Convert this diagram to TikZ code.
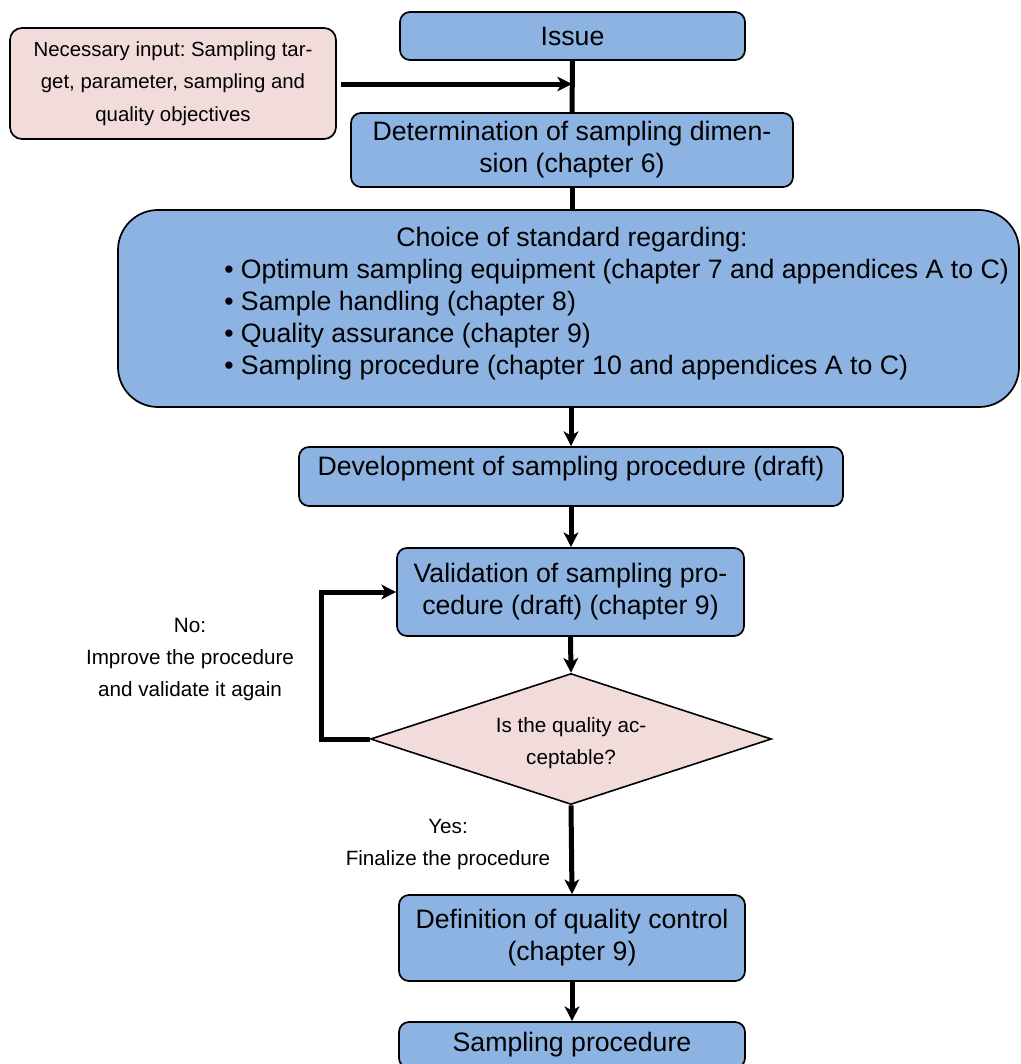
\documentclass[tikz,border=0pt]{standalone}
\usepackage{fontspec}
\setmainfont{Liberation Sans}
\usetikzlibrary{arrows.meta,shapes.geometric}
\definecolor{boxblue}{HTML}{8DB3E2}
\definecolor{boxpink}{HTML}{F2DCDB}
\frenchspacing
\begin{document}
\begin{tikzpicture}[x=0.75pt,y=-0.75pt,
  bluebox/.style={draw=black,line width=1.3pt,fill=boxblue,rounded corners=7.5pt,inner sep=0pt,align=center,font=\fontsize{20}{24}\selectfont},
  pinkbox/.style={draw=black,line width=1.3pt,fill=boxpink,rounded corners=9pt,inner sep=0pt,align=center,font=\fontsize{15.3}{24.5}\selectfont},
  bigtext/.style={inner sep=0pt,align=center,font=\fontsize{20}{24}\selectfont},
  smalltext/.style={inner sep=0pt,align=center,font=\fontsize{15.5}{24}\selectfont},
  conn/.style={line width=3.75pt},
  arr/.style={line width=3.75pt,-{Stealth[length=11pt,width=11pt,inset=3pt]}},
]
\useasboundingbox (0,0) rectangle (1021,1064);
\clip (0,0) rectangle (1021,1064);

% boxes
\node[bluebox,minimum width=258.75pt,minimum height=36pt] (issue) at (572.5,36) {Issue};
\node[pinkbox,minimum width=244.5pt,minimum height=83.25pt] (input) at (173,83.5) {Necessary input: Sampling tar-\\get, parameter, sampling and\\quality objectives};
\node[bluebox,minimum width=331.5pt,minimum height=55.5pt] (det) at (572,150) {Determination of sampling dimen-\\sion (chapter 6)};
\node[bluebox,rounded corners=30pt,minimum width=675.75pt,minimum height=147.75pt] (choice) at (568.5,308.5) {};
\node[bigtext] (choicetitle) at (572,240) {Choice of standard regarding:};
\node[bigtext,align=left,anchor=west] (choicelist) at (224,320) {• Optimum sampling equipment (chapter 7 and appendices A to C)\\• Sample handling (chapter 8)\\• Quality assurance (chapter 9)\\• Sampling procedure (chapter 10 and appendices A to C)};
\node[bluebox,minimum width=408pt,minimum height=44.25pt] (dev) at (571,476.5) {};
\node[bigtext] (devtext) at (571,469) {Development of sampling procedure (draft)};
\node[bluebox,minimum width=260.25pt,minimum height=66pt] (val) at (570.5,592) {Validation of sampling pro-\\cedure (draft) (chapter 9)};
\node[diamond,draw=black,line width=1.2pt,fill=boxpink,minimum width=300.75pt,minimum height=98.25pt,inner sep=0pt] (dia) at (571,739) {};
\node[smalltext] (diatext) at (571,743) {Is the quality ac-\\ceptable?};
\node[bluebox,minimum width=259.5pt,minimum height=64.5pt] (def) at (572,938) {Definition of quality control\\(chapter 9)};
\node[bluebox,minimum width=259.5pt,minimum height=34.5pt] (samp) at (572,1045) {Sampling procedure};

% labels
\node[smalltext] (nolabel) at (190,660) {No:\\Improve the procedure\\and validate it again};
\node[smalltext] (yeslabel) at (448,845) {Yes:\\Finalize the procedure};

% connectors
\coordinate (join) at (572,84);
\coordinate (loopcorner) at ([xshift=-36pt]dia.west);
\draw[conn] (issue.south) -- (det.north);
\draw[arr] ([xshift=3pt]input.east |- join) -- (join);
\draw[conn] (det.south) -- (choice.north -| det.south);
\draw[arr] (choice.south -| dev.north) -- (dev.north);
\draw[arr] (dev.south) -- (val.north -| dev.south);
\draw[arr] (val.south) -- (dia.north);
\draw[arr] (dia.west) -- (loopcorner) |- (val.west);
\draw[arr] (dia.south) -- (def.north);
\draw[arr] (def.south) -- (samp.north);
\end{tikzpicture}
\end{document}
